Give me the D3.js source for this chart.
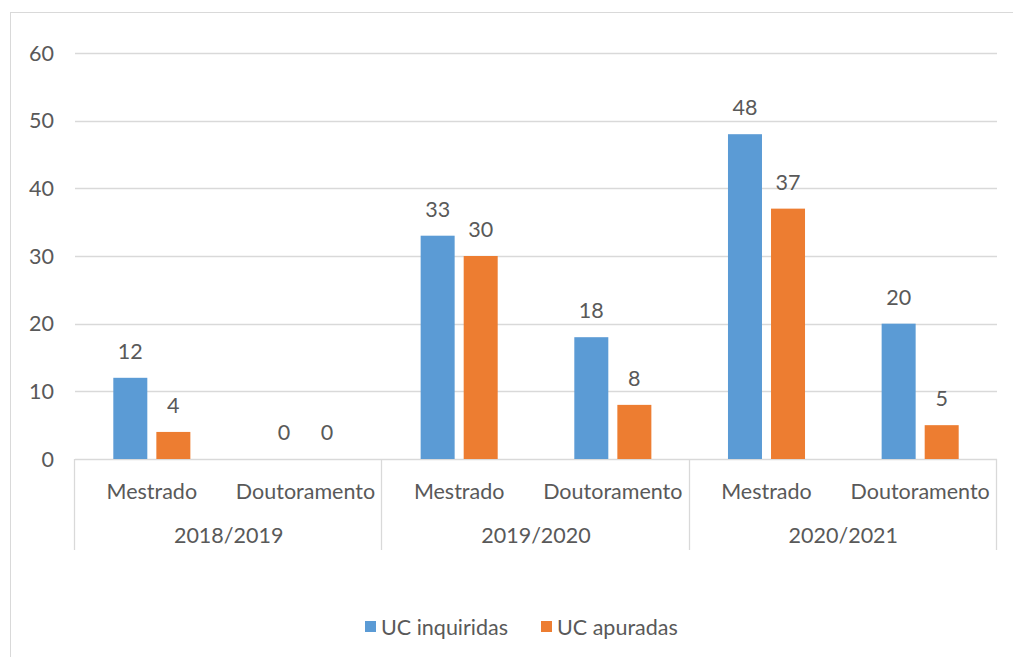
<!DOCTYPE html>
<html>
<head>
<meta charset="utf-8">
<script src="https://cdn.jsdelivr.net/npm/d3@7.9.0/dist/d3.min.js"></script>
<style>
  body { margin: 0; background: #fff; }
  svg text { font-family: Lato, "Open Sans", sans-serif; fill: #595959; }
</style>
</head>
<body>
<svg id="chart" width="1013" height="657"></svg>
<script>
const years = ['2018/2019', '2019/2020', '2020/2021'];
const levels = ['Mestrado', 'Doutoramento'];
const seriesNames = ['UC inquiridas', 'UC apuradas'];
const inquiridas = [12, 0, 33, 18, 48, 20];
const apuradas = [4, 0, 30, 8, 37, 5];
const yTicks = [0, 10, 20, 30, 40, 50, 60];
const colors = ['#5B9BD5', '#ED7D31'];

const fs = 21.5;
const svg = d3.select('#chart');

// chart border
svg.append('rect')
  .attr('x', 10.5).attr('y', 12.5)
  .attr('width', 1010).attr('height', 700)
  .attr('fill', 'none').attr('stroke', '#d9d9d9');

const plotLeft = 75, plotRight = 997, plotTop = 53, plotBottom = 459;

const cats = years.flatMap((yr) => levels.map((lv) => ({ year: yr, level: lv })));

const x = d3.scaleBand()
  .domain(d3.range(cats.length))
  .range([plotLeft, plotRight])
  .paddingInner(0).paddingOuter(0);

const xs = d3.scaleBand()
  .domain([0, 1])
  .range([0, x.bandwidth()])
  .paddingInner(0.21)
  .paddingOuter(0.89);

const y = d3.scaleLinear().domain([0, 60]).range([plotBottom, plotTop]);

// gridlines
svg.append('g')
  .selectAll('line')
  .data(yTicks)
  .join('line')
  .attr('x1', plotLeft).attr('x2', plotRight)
  .attr('y1', (d) => Math.round(y(d)) + 0.5)
  .attr('y2', (d) => Math.round(y(d)) + 0.5)
  .attr('stroke', '#d9d9d9')
  .attr('stroke-width', 1.3);

// y labels
svg.append('g')
  .selectAll('text')
  .data(yTicks)
  .join('text')
  .attr('x', 54)
  .attr('y', (d) => y(d))
  .attr('dy', '0.36em')
  .attr('text-anchor', 'end')
  .attr('font-size', fs)
  .text((d) => d);

// bars
const series = [inquiridas, apuradas];
series.forEach((vals, s) => {
  const g = svg.append('g');
  g.selectAll('rect')
    .data(vals)
    .join('rect')
    .attr('x', (d, i) => x(i) + xs(s))
    .attr('width', xs.bandwidth())
    .attr('y', (d) => y(d))
    .attr('height', (d) => y(0) - y(d))
    .attr('fill', colors[s]);

  g.selectAll('text')
    .data(vals)
    .join('text')
    .attr('x', (d, i) => x(i) + xs(s) + xs.bandwidth() / 2)
    .attr('y', (d) => y(d) - 19)
    .attr('text-anchor', 'middle')
    .attr('font-size', fs)
    .text((d) => d);
});

// category axis separators
const sepX = [0, 2, 4].map((i) => x(i)).concat([plotRight]);
svg.append('g')
  .selectAll('line')
  .data(sepX)
  .join('line')
  .attr('x1', (d) => Math.round(d) - 0.5).attr('x2', (d) => Math.round(d) - 0.5)
  .attr('y1', plotBottom).attr('y2', 550)
  .attr('stroke', '#d9d9d9')
  .attr('stroke-width', 1.3);

// level labels
svg.append('g')
  .selectAll('text')
  .data(cats)
  .join('text')
  .attr('x', (d, i) => x(i) + x.bandwidth() / 2)
  .attr('y', 499)
  .attr('text-anchor', 'middle')
  .attr('font-size', fs)
  .text((d) => d.level);

// year labels
svg.append('g')
  .selectAll('text')
  .data(years)
  .join('text')
  .attr('x', (d, i) => x(i * 2) + x.bandwidth())
  .attr('y', 543)
  .attr('text-anchor', 'middle')
  .attr('font-size', fs)
  .text((d) => d);

// legend
const legendX = [365, 541];
const legend = svg.append('g');
seriesNames.forEach((name, i) => {
  legend.append('rect')
    .attr('x', legendX[i]).attr('y', 621)
    .attr('width', 11).attr('height', 11)
    .attr('fill', colors[i]);
  legend.append('text')
    .attr('x', legendX[i] + 16)
    .attr('y', 635)
    .attr('font-size', fs)
    .text(name);
});
</script>
</body>
</html>
